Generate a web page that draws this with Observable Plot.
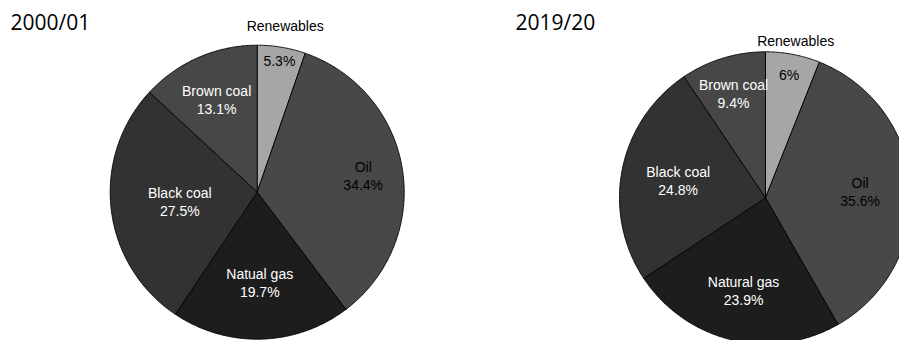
<!DOCTYPE html>
<html>
<head>
<meta charset="utf-8">
<script src="https://cdn.jsdelivr.net/npm/d3@7"></script>
<script src="https://cdn.jsdelivr.net/npm/@observablehq/plot@0.6"></script>
<style>
  html, body { margin: 0; padding: 0; background: #fff; overflow: hidden; }
  #chart { width: 899px; height: 340px; overflow: hidden; }
</style>
</head>
<body>
<div id="chart"></div>
<script>
// ---- data ----
const years = ["2000/01", "2019/20"];
const categories = ["Renewables", "Oil", "Natural gas", "Black coal", "Brown coal"];
const labels2000 = ["Renewables", "Oil", "Natual gas", "Black coal", "Brown coal"]; // as printed in source
const labels2019 = ["Renewables", "Oil", "Natural gas", "Black coal", "Brown coal"];
const share2000 = [5.3, 34.4, 19.7, 27.5, 13.1];
const share2019 = [6, 35.6, 23.9, 24.8, 9.4];

// ---- styling / layout ----
const W = 899, H = 340;
const colors = {"Renewables": "#a6a6a6", "Oil": "#484848", "Natural gas": "#1d1d1d", "Black coal": "#323232", "Brown coal": "#474747"};
const textColors = {"Renewables": "#000", "Oil": "#000", "Natural gas": "#fff", "Black coal": "#fff", "Brown coal": "#fff"};
const pies = [
  {year: years[0], labels: labels2000, values: share2000, cx: 256.7, cy: 191.7, r: 147,
   labelR: [0.91, 0.73, 0.61, 0.53, 0.69], outerR: 1.15, titleX: 10},
  {year: years[1], labels: labels2019, values: share2019, cx: 765, cy: 197.3, r: 146,
   labelR: [0.86, 0.65, 0.65, 0.61, 0.75], outerR: 1.10, titleX: 515}
];

const marks = [];
const textData = [];
const titleData = [];

for (const p of pies) {
  const data = categories.map((c, i) => ({cat: c, label: p.labels[i], value: p.values[i]}));
  const arcs = d3.pie().sort(null).value(d => d.value)(data);
  const pt = (a, rho) => ({x: p.cx + rho * Math.sin(a), y: p.cy - rho * Math.cos(a)});
  arcs.forEach((arc, i) => {
    const pts = [pt(0, 0)];
    const n = Math.max(4, Math.ceil((arc.endAngle - arc.startAngle) / (Math.PI / 360)));
    for (let k = 0; k <= n; k++) {
      const a = arc.startAngle + (arc.endAngle - arc.startAngle) * k / n;
      pts.push(pt(a, p.r));
    }
    pts.push(pt(0, 0));
    marks.push(Plot.line(pts, {x: "x", y: "y", fill: colors[arc.data.cat], stroke: "#000", strokeWidth: 0.9, strokeLinejoin: "round"}));
    const mid = (arc.startAngle + arc.endAngle) / 2;
    const lp = pt(mid, p.r * p.labelR[i]);
    const pct = arc.data.value + "%";
    if (arc.data.cat === "Renewables") {
      const op = pt(mid, p.r * p.outerR);
      textData.push({x: op.x, y: op.y, text: arc.data.label, color: "#000"});
      textData.push({x: lp.x, y: lp.y, text: pct, color: textColors[arc.data.cat]});
    } else {
      textData.push({x: lp.x, y: lp.y, text: arc.data.label + "\n" + pct, color: textColors[arc.data.cat]});
    }
  });
  titleData.push({x: p.titleX, y: 23, text: p.year});
}

marks.push(Plot.text(textData, {x: "x", y: "y", text: "text", fill: d => d.color, fontSize: 14, fontFamily: "Liberation Sans, Arial, sans-serif", lineHeight: 1.28}));
marks.push(Plot.text(titleData, {x: "x", y: "y", text: "text", textAnchor: "start", fontSize: 21, fontFamily: "Open Sans, sans-serif", fill: "#000"}));

const chart = Plot.plot({
  width: W, height: H,
  margin: 0,
  x: {domain: [0, W], range: [0, W], axis: null},
  y: {domain: [0, H], range: [0, H], axis: null},
  color: {type: "identity"},
  style: {background: "#fff", overflow: "hidden"},
  marks
});
document.getElementById("chart").appendChild(chart);
</script>
</body>
</html>
